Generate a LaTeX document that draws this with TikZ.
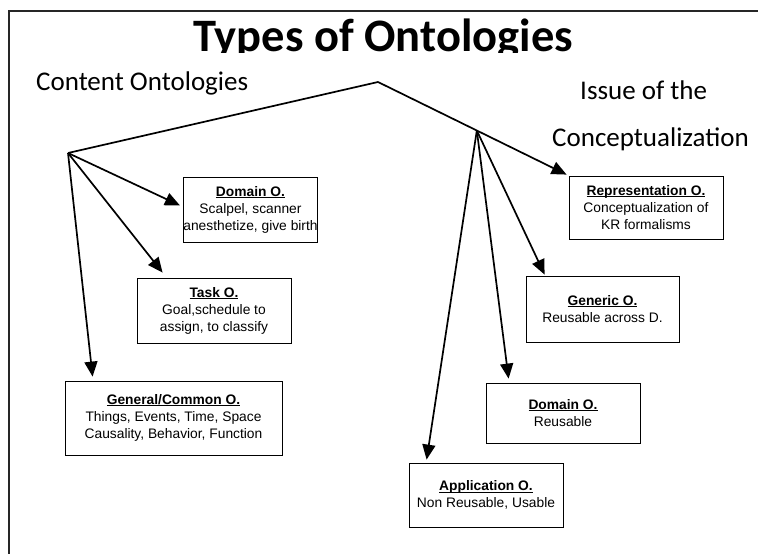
\documentclass[tikz,border=0pt]{standalone}
\usepackage{fontspec}
\setmainfont{Carlito}
\newfontfamily\arialf{Liberation Sans}
\usetikzlibrary{arrows.meta,calc}
\newcommand\boxttl[1]{\setbox0\hbox{\bfseries #1}\rlap{\rule[-1.7pt]{\wd0}{0.8pt}}\box0}
\begin{document}
\begin{tikzpicture}[x=1pt,y=-1pt,
  obox/.style={draw=black,line width=0.8pt,fill=white,inner sep=0pt,align=center,
    font=\arialf\fontsize{13.8}{17}\selectfont},
  conn/.style={line width=1.7pt,black},
  arr/.style={conn,-{Triangle[length=15pt,width=13pt]}},
  bigtext/.style={inner sep=0pt,font=\fontsize{27}{30}\selectfont}]
\useasboundingbox (0,0) rectangle (758,554);
% frame
\draw[line width=1.1pt,black!85] (9,554) -- (9,11) -- (758,11);
% title (clipped at bottom)
\begin{scope}
\clip (0,12) rectangle (758,52.6);
\node[inner sep=0pt,anchor=base,font=\bfseries\fontsize{46.5}{50}\selectfont] (title) at (383,51.5) {Types of Ontologies};
\end{scope}
\node[bigtext,anchor=base west] (content) at (36,90) {Content Ontologies};
\node[bigtext,anchor=base west] (issue) at (580,99) {Issue of the};
\node[bigtext,anchor=base west] (concept) at (552,146) {Conceptualization};
% boxes
\node[obox,minimum width=129pt,minimum height=65pt] (dom1) at (250.5,209.5)
  {\boxttl{Domain O.}\\Scalpel, scanner\\anesthetize, give birth};
\node[obox,minimum width=154pt,minimum height=65pt] (task) at (214,310.5)
  {\boxttl{Task O.}\\Goal,schedule to\\assign, to classify};
\node[obox,minimum width=217pt,minimum height=74pt] (gen) at (173.5,418)
  {\boxttl{General/Common O.}\\Things, Events, Time, Space\\Causality, Behavior, Function};
\node[obox,minimum width=154pt,minimum height=63pt] (rep) at (646,207.5)
  {\boxttl{Representation O.}\\Conceptualization of\\KR formalisms};
\node[obox,minimum width=153pt,minimum height=66pt] (generic) at (602.5,309)
  {\boxttl{Generic O.}\\Reusable across D.};
\node[obox,minimum width=154pt,minimum height=60pt] (dom2) at (563,413)
  {\boxttl{Domain O.}\\Reusable};
\node[obox,minimum width=154pt,minimum height=64pt] (app) at (486,495)
  {\boxttl{Application O.}\\Non Reusable, Usable};
% hubs
\coordinate (peak) at (378,82);
\coordinate (lhub) at (68,153);
\coordinate (reptip) at ($(rep.north west)+(-2,-1)$);
\coordinate (rhub) at ($(peak)!0.524!(reptip)$);
% connectors
\draw[conn,line join=round] (lhub) -- (peak);
\draw[arr] (peak) -- (reptip);
\draw[arr] (lhub) -- ($(dom1.west)+(-3,-4)$);
\draw[arr] (lhub) -- ($(task.north west)+(26,-5)$);
\draw[arr] (lhub) -- ($(gen.north west)+(28,-4)$);
\draw[arr] (rhub) -- ($(generic.north west)+(19,-1)$);
\draw[arr] (rhub) -- ($(dom2.north west)+(23,-4)$);
\draw[arr] (rhub) -- ($(app.north west)+(18,-3)$);
\end{tikzpicture}
\end{document}
